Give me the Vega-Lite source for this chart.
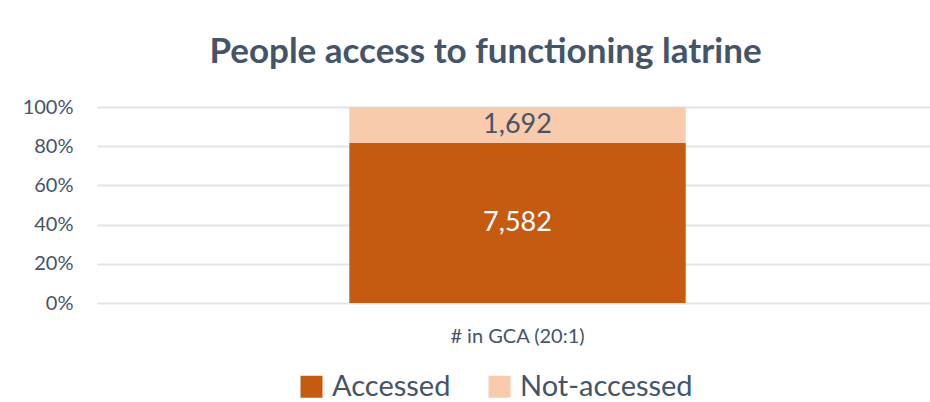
{
  "$schema": "https://vega.github.io/schema/vega-lite/v6.json",
  "autosize": "none",
  "width": 841,
  "height": 196,
  "padding": {"left": 97, "top": 107, "right": 0, "bottom": 99},
  "background": "white",
  "title": {
    "text": "People access to functioning latrine",
    "font": "Lato",
    "fontSize": 35,
    "fontWeight": "bold",
    "color": "#44546A",
    "anchor": "middle",
    "frame": "group",
    "dx": -32,
    "offset": 27
  },
  "data": {
    "values": [
      {"category": "# in GCA (20:1)", "status": "Accessed", "value": 7582},
      {"category": "# in GCA (20:1)", "status": "Not-accessed", "value": 1692}
    ]
  },
  "encoding": {
    "x": {
      "field": "category",
      "type": "nominal",
      "title": null,
      "scale": {"paddingInner": 0, "paddingOuter": 0.75},
      "axis": {
        "labelAngle": 0,
        "domain": false,
        "ticks": false,
        "labelFont": "Lato",
        "labelFontSize": 20,
        "labelColor": "#44546A",
        "labelPadding": 23
      }
    }
  },
  "layer": [
    {
      "mark": {"type": "bar"},
      "encoding": {
        "y": {
          "field": "value",
          "type": "quantitative",
          "stack": "normalize",
          "title": null,
          "scale": {"domain": [0, 1]},
          "axis": {
            "format": ".0%",
            "values": [0, 0.2, 0.4, 0.6, 0.8, 1],
            "labelOverlap": false,
            "domain": false,
            "ticks": false,
            "labelFont": "Lato",
            "labelFontSize": 20,
            "labelColor": "#44546A",
            "labelPadding": 24,
            "gridColor": "#E1E4EA",
            "gridWidth": 2
          }
        },
        "order": {"field": "status", "sort": "ascending"},
        "color": {
          "field": "status",
          "type": "nominal",
          "title": null,
          "scale": {"domain": ["Accessed", "Not-accessed"], "range": ["#C55A11", "#F8CBAD"]},
          "legend": {
            "orient": "none",
            "legendX": 200,
            "legendY": 265,
            "direction": "horizontal",
            "symbolType": "square",
            "symbolSize": 484,
            "symbolStrokeWidth": 0,
            "labelFont": "Lato",
            "labelFontSize": 29,
            "labelColor": "#44546A",
            "labelOffset": 6,
            "labelLimit": 400,
            "columnPadding": 34
          }
        }
      }
    },
    {
      "mark": {"type": "text", "font": "Lato", "fontSize": 27, "baseline": "middle", "align": "center"},
      "encoding": {
        "y": {
          "field": "value",
          "type": "quantitative",
          "stack": "normalize",
          "bandPosition": 0.5,
          "title": null,
          "scale": {"domain": [0, 1]},
          "axis": {
            "format": ".0%",
            "values": [0, 0.2, 0.4, 0.6, 0.8, 1],
            "labelOverlap": false,
            "domain": false,
            "ticks": false,
            "labelFont": "Lato",
            "labelFontSize": 20,
            "labelColor": "#44546A",
            "labelPadding": 24,
            "gridColor": "#E1E4EA",
            "gridWidth": 2
          }
        },
        "order": {"field": "status", "sort": "ascending"},
        "detail": {"field": "status"},
        "text": {"field": "value", "type": "quantitative", "format": ","},
        "color": {
          "condition": {"test": "datum.status === 'Accessed'", "value": "white"},
          "value": "#44546A"
        }
      }
    }
  ],
  "config": {"view": {"stroke": null}}
}
